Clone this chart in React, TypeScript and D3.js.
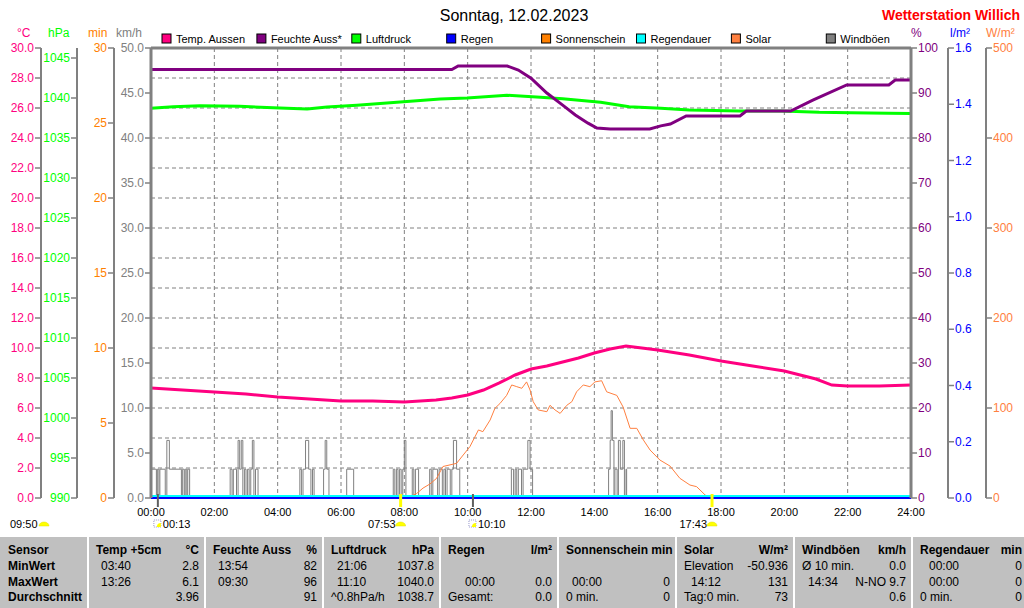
import React from 'react';
import * as d3 from 'd3';

// ---- data (hour of day, value) ----
const tempAussen: [number, number][] = [
  [0, 7.33], [1, 7.2], [2, 7.07], [3, 6.93], [4, 6.73], [5, 6.6], [6, 6.47], [7, 6.47],
  [8, 6.4], [9, 6.53], [9.5, 6.67], [10, 6.87], [10.5, 7.2], [11, 7.67], [11.5, 8.2],
  [12, 8.6], [12.5, 8.8], [13, 9.07], [13.5, 9.33], [14, 9.67], [14.5, 9.93], [15, 10.13],
  [15.5, 10.0], [16, 9.87], [17, 9.53], [18, 9.13], [19, 8.8], [20, 8.47], [21, 7.93],
  [21.5, 7.53], [22, 7.47], [23, 7.47], [24, 7.53],
];

const feuchteAussen: [number, number][] = [
  [0, 95.2], [9.5, 95.2], [9.7, 96], [11.25, 96], [11.6, 95.1], [12.0, 93.3], [12.5, 90],
  [13.0, 87.3], [13.4, 85.1], [13.8, 83.3], [14.08, 82.2], [14.5, 82], [15.75, 82],
  [16.1, 82.7], [16.4, 83.1], [16.9, 84.9], [18.6, 84.9], [18.8, 86], [20.2, 86],
  [20.9, 88.4], [21.97, 91.8], [23.3, 91.8], [23.5, 92.9], [24, 92.9],
];

const luftdruck: [number, number][] = [
  [0, 1038.71], [0.7, 1038.91], [1.55, 1039.04], [2.8, 1038.96], [4.07, 1038.75],
  [4.93, 1038.63], [5.56, 1038.88], [6.5, 1039.09], [8.08, 1039.56], [9.13, 1039.88],
  [9.98, 1040.0], [11.24, 1040.34], [12.3, 1040.1], [13.0, 1039.9], [14.2, 1039.46],
  [15.1, 1038.91], [16.1, 1038.71], [17.0, 1038.5], [18.6, 1038.38], [19.9, 1038.38],
  [21.1, 1038.21], [22.1, 1038.16], [23.3, 1038.09], [24, 1038.06],
];

const solar: [number, number][] = [
  [0, 0], [8.1, 0], [8.18, 1.5], [8.39, 5], [8.59, 11], [8.81, 15.6], [9.02, 21.9], [9.22, 35],
  [9.65, 38.5], [9.86, 47.8], [10.07, 57], [10.34, 75.6], [10.48, 73.7], [10.71, 86.7],
  [10.86, 99.6], [11.02, 105], [11.23, 114], [11.39, 125.6], [11.55, 123.7], [11.71, 121.9],
  [11.86, 129], [11.97, 120], [12.07, 107], [12.23, 97.8], [12.5, 95.9], [12.6, 103],
  [12.76, 97.8], [12.92, 94], [13.13, 103], [13.29, 107], [13.44, 118], [13.65, 125.6],
  [13.86, 123.7], [14.02, 129], [14.23, 130.3], [14.39, 118], [14.71, 114], [14.91, 101],
  [15.13, 77.4], [15.34, 77.4], [15.55, 64.4], [15.76, 53.3], [16.07, 42.2], [16.39, 35.5],
  [16.7, 21.9], [17.02, 14.4], [17.23, 12.6], [17.5, 3.3], [17.6, 1.5], [17.7, 0], [24, 0],
];

// gusts, step function
const windboeen: [number, number][] = [
  [0, 3.2], [0.17, 0], [0.2, 3.2], [0.25, 0], [0.28, 3.2], [0.45, 0], [0.5, 6.4], [0.58, 3.2],
  [0.96, 0], [1.0, 3.2], [1.05, 0], [1.08, 3.2], [1.13, 0], [1.16, 3.2], [1.22, 0],
  [2.5, 3.2], [2.56, 0], [2.6, 3.2], [2.7, 0], [2.75, 6.4], [2.8, 3.2], [2.85, 6.4], [2.9, 0],
  [2.95, 3.2], [3.0, 0], [3.05, 3.2], [3.1, 0], [3.15, 3.2], [3.2, 6.4], [3.25, 0], [3.3, 3.2], [3.38, 0],
  [4.7, 3.2], [4.75, 0], [4.8, 3.2], [4.88, 6.4], [4.98, 3.2], [5.05, 0], [5.1, 3.2], [5.15, 0],
  [5.45, 3.2], [5.5, 6.4], [5.55, 3.2], [5.62, 0],
  [6.18, 3.2], [6.4, 0],
  [7.65, 3.2], [7.7, 0], [7.75, 3.2], [7.8, 0], [7.85, 3.2], [7.9, 0], [7.95, 3.2], [8.0, 6.4], [8.05, 0],
  [8.25, 3.2], [8.3, 0], [8.35, 3.2], [8.45, 0], [8.8, 3.2], [8.85, 0], [8.9, 3.2], [9.05, 0],
  [9.1, 3.2], [9.2, 0], [9.25, 3.2], [9.3, 0], [9.35, 3.2], [9.45, 0], [9.5, 3.2], [9.55, 6.4],
  [9.65, 3.2], [9.75, 0],
  [11.38, 3.2], [11.45, 0], [11.5, 3.2], [11.55, 0], [11.6, 3.2], [11.7, 0], [11.75, 3.2],
  [11.9, 6.4], [11.97, 3.2], [12.05, 0],
  [14.45, 3.2], [14.5, 6.4], [14.53, 9.7], [14.57, 6.4], [14.62, 0], [14.65, 3.2], [14.72, 0],
  [14.76, 6.4], [14.82, 3.2], [14.9, 6.4], [14.95, 0], [15.0, 3.2], [15.02, 0], [24, 0],
];

const regen: [number, number][] = [[0, 0], [24, 0]];
const regendauer: [number, number][] = [[0, 0], [24, 0]];
const sonnenschein: [number, number][] = [[0, 0], [24, 0]];

const hourTicks = d3.range(0, 25, 2);
const tempTicks = d3.range(0, 30.01, 2);
const hpaTicks = d3.range(990, 1046, 5);
const minTicks = d3.range(0, 31, 5);
const kmhTicks = d3.range(0, 50.01, 5);
const pctTicks = d3.range(0, 101, 10);
const rainTicks = d3.range(0, 1.61, 0.2);
const solarTicks = d3.range(0, 501, 100);

const legendItems = [
  ['Temp. Aussen', '#ff0080'], ['Feuchte Auss*', '#800080'], ['Luftdruck', '#00ff00'],
  ['Regen', '#0000ff'], ['Sonnenschein', '#ff8000'], ['Regendauer', '#00ffff'],
  ['Solar', '#ff8040'], ['Windböen', '#808080'],
];

const astroEvents = [
  { time: '00:13', kind: 'moon' },
  { time: '07:53', kind: 'sun' },
  { time: '10:10', kind: 'moon' },
  { time: '17:43', kind: 'sun' },
];
const dayLength = '09:50';

const sensorRows = ['MinWert', 'MaxWert', 'Durchschnitt'];
const tableCols: { head: string; unit: string; indent: number; rows: [string, string][] }[] = [
  { head: 'Temp +5cm', unit: '°C', indent: 5, rows: [['03:40', '2.8'], ['13:26', '6.1'], ['', '3.96']] },
  { head: 'Feuchte Auss', unit: '%', indent: 5, rows: [['13:54', '82'], ['09:30', '96'], ['', '91']] },
  { head: 'Luftdruck', unit: 'hPa', indent: 6, rows: [['21:06', '1037.8'], ['11:10', '1040.0'], ['^0.8hPa/h', '1038.7']] },
  { head: 'Regen', unit: 'l/m²', indent: 17, rows: [['', ''], ['00:00', '0.0'], ['Gesamt:', '0.0']] },
  { head: 'Sonnenschein min', unit: '', indent: 6, rows: [['', ''], ['00:00', '0'], ['0 min.', '0']] },
  { head: 'Solar', unit: 'W/m²', indent: 7, rows: [['Elevation', '-50.936'], ['14:12', '131'], ['Tag:0 min.', '73']] },
  { head: 'Windböen', unit: 'km/h', indent: 6, rows: [['Ø 10 min.', '0.0'], ['14:34', 'N-NO 9.7'], ['', '0.6']] },
  { head: 'Regendauer', unit: 'min', indent: 9, rows: [['00:00', '0'], ['00:00', '0'], ['0 min.', '0']] },
];
const colEdges = [0, 88, 205, 323, 440, 558, 676, 794, 912, 1024];

const FONT = '"Liberation Sans", Arial, sans-serif';
const GRAY = '#808080';
const W = 1024;
const H = 608;
const top = 48;
const bottom = 498;

const x = d3.scaleLinear().domain([0, 24]).range([151, 911]);
const yTemp = d3.scaleLinear().domain([0, 30]).range([bottom, top]);
const yHpa = d3.scaleLinear().domain([990, 1046.25]).range([bottom, top]);
const yMin = d3.scaleLinear().domain([0, 30]).range([bottom, top]);
const yKmh = d3.scaleLinear().domain([0, 50]).range([bottom, top]);
const yPct = d3.scaleLinear().domain([0, 100]).range([bottom, top]);
const yRain = d3.scaleLinear().domain([0, 1.6]).range([bottom, top]);
const ySolar = d3.scaleLinear().domain([0, 500]).range([bottom, top]);

const parseHM = (s: string) => {
  const [h, m] = s.split(':').map(Number);
  return h + m / 60;
};

const mkLine = (y: d3.ScaleLinear<number, number>, curve: d3.CurveFactory = d3.curveLinear) =>
  d3.line<[number, number]>().x((d) => x(d[0])).y((d) => y(d[1])).curve(curve);

type AxisProps = {
  ax: number;
  scale: d3.ScaleLinear<number, number>;
  ticks: number[];
  fmt: (v: number) => string;
  color: string;
  side: 'left' | 'right';
  header: string;
  headerX: number;
  lineWidth?: number;
};

const Axis = ({ ax, scale, ticks, fmt, color, side, header, headerX, lineWidth = 2 }: AxisProps) => {
  const dir = side === 'left' ? -1 : 1;
  return (
    <g>
      <line x1={ax} x2={ax} y1={top} y2={bottom} stroke={GRAY} strokeWidth={lineWidth} />
      {ticks.map((t) => (
        <g key={t}>
          <line x1={ax} x2={ax + dir * 6} y1={scale(t)} y2={scale(t)} stroke={GRAY} strokeWidth={1.5} />
          <text
            x={ax + dir * 7}
            y={scale(t)}
            dy="0.35em"
            textAnchor={side === 'left' ? 'end' : 'start'}
            fill={color}
            fontSize={12}
          >
            {fmt(t)}
          </text>
        </g>
      ))}
      <text x={headerX} y={37} fill={color} fontSize={12}>{header}</text>
    </g>
  );
};

const SunIcon = ({ cx, cy }: { cx: number; cy: number }) => (
  <path d={`M${cx - 5},${cy} A5,4 0 0 1 ${cx + 5},${cy} Z`} fill="#ffff00" stroke="#e0e000" strokeWidth={0.5} />
);

const MoonIcon = ({ cx, cy }: { cx: number; cy: number }) => (
  <g>
    <rect x={cx - 4} y={cy - 6} width={7} height={7} fill="none" stroke="#8080c0" strokeWidth={0.8} strokeDasharray="1,1" />
    <path d={`M${cx - 1},${cy + 1} A4,4 0 0 1 ${cx + 3},${cy - 3} L${cx + 3},${cy + 1} Z`} fill="#ffff00" />
  </g>
);

export default function App() {
  const hGrid = tempTicks.filter((t) => t > 0 && t < 30);
  const vGrid = hourTicks.filter((h) => h > 0 && h < 24);
  const rowY = [570, 586, 601];

  return (
    <div style={{ position: 'absolute', left: 0, top: 0, width: W, height: H, background: '#fff' }}>
      <svg width={W} height={H} style={{ display: 'block', fontFamily: FONT }}>
        <rect width={W} height={H} fill="#ffffff" />

        {/* titles */}
        <text x={514} y={21} textAnchor="middle" fontSize={16} fill="#000">Sonntag, 12.02.2023</text>
        <text x={1020} y={20} textAnchor="end" fontSize={14} fontWeight="bold" fill="#ff0000">Wetterstation Willich</text>

        {/* legend */}
        {legendItems.map(([label, color], i) => (
          <g key={label} transform={`translate(${162 + i * 94.9},34)`}>
            <rect x={0} y={0} width={9} height={9} fill={color} stroke="#000" strokeWidth={1} />
            <text x={14} y={8.5} fontSize={11} fill="#000">{label}</text>
          </g>
        ))}

        {/* grid */}
        {hGrid.map((t) => (
          <line key={'h' + t} x1={x(0)} x2={x(24)} y1={yTemp(t)} y2={yTemp(t)} stroke={GRAY} strokeDasharray="4,3" />
        ))}
        {vGrid.map((h) => (
          <line key={'v' + h} x1={x(h)} x2={x(h)} y1={top} y2={bottom} stroke={GRAY} strokeDasharray="4,3" />
        ))}

        {/* series */}
        <path d={mkLine(yKmh, d3.curveStepAfter)(windboeen) ?? ''} fill="none" stroke={GRAY} strokeWidth={1} />
        <path d={mkLine(ySolar)(solar) ?? ''} fill="none" stroke="#ff8040" strokeWidth={1} />
        <path d={mkLine(yMin)(sonnenschein) ?? ''} fill="none" stroke="#ff8000" strokeWidth={2} />
        <path d={mkLine(yRain)(regen) ?? ''} fill="none" stroke="#0000ff" strokeWidth={2} />
        <path d={mkLine(yMin)(regendauer) ?? ''} fill="none" stroke="#00ffff" strokeWidth={2} transform="translate(0,-2)" />
        <path d={mkLine(yHpa)(luftdruck) ?? ''} fill="none" stroke="#00ff00" strokeWidth={3} />
        <path d={mkLine(yPct)(feuchteAussen) ?? ''} fill="none" stroke="#800080" strokeWidth={3} />
        <path d={mkLine(yTemp)(tempAussen) ?? ''} fill="none" stroke="#ff0080" strokeWidth={3} />

        {/* frame */}
        <line x1={x(0)} x2={x(24)} y1={top} y2={top} stroke={GRAY} strokeWidth={3} />

        {/* axes */}
        <Axis ax={41} scale={yTemp} ticks={tempTicks} fmt={(v) => v.toFixed(1)} color="#ff0080" side="left" header="°C" headerX={17} />
        <Axis ax={77} scale={yHpa} ticks={hpaTicks} fmt={(v) => String(v)} color="#00ff00" side="left" header="hPa" headerX={48} />
        <Axis ax={114} scale={yMin} ticks={minTicks} fmt={(v) => String(v)} color="#ff8000" side="left" header="min" headerX={88} />
        <Axis ax={151} scale={yKmh} ticks={kmhTicks} fmt={(v) => v.toFixed(1)} color={GRAY} side="left" header="km/h" headerX={116} lineWidth={3} />
        <Axis ax={911} scale={yPct} ticks={pctTicks} fmt={(v) => String(v)} color="#800080" side="right" header="%" headerX={911} lineWidth={3} />
        <Axis ax={948} scale={yRain} ticks={rainTicks} fmt={(v) => v.toFixed(1)} color="#0000ff" side="right" header="l/m²" headerX={950} />
        <Axis ax={986} scale={ySolar} ticks={solarTicks} fmt={(v) => String(v)} color="#ff8040" side="right" header="W/m²" headerX={986} />

        {/* x labels */}
        {hourTicks.map((h) => (
          <text key={'x' + h} x={x(h)} y={516} textAnchor="middle" fontSize={11} fill="#000">
            {String(h).padStart(2, '0') + ':00'}
          </text>
        ))}

        {/* sun / moon events */}
        <text x={10} y={528} fontSize={11} fill="#000">{dayLength}</text>
        <SunIcon cx={44} cy={526} />
        {astroEvents.map((ev) => {
          const ex = x(parseHM(ev.time));
          return ev.kind === 'sun' ? (
            <g key={ev.time}>
              <line x1={ex} x2={ex} y1={bottom - 4} y2={bottom + 9} stroke="#ffff00" strokeWidth={3} />
              <text x={ex - 5} y={528} textAnchor="end" fontSize={11} fill="#000">{ev.time}</text>
              <SunIcon cx={ex} cy={526} />
            </g>
          ) : (
            <g key={ev.time}>
              <line x1={ex} x2={ex} y1={bottom - 4} y2={bottom + 9} stroke="#606060" strokeWidth={2} />
              <MoonIcon cx={ex} cy={526} />
              <text x={ex + 5} y={528} fontSize={11} fill="#000">{ev.time}</text>
            </g>
          );
        })}

        {/* table */}
        <rect x={0} y={537} width={W} height={H - 537} fill="#c0c0c0" />
        {colEdges.slice(1, -1).map((e) => (
          <line key={'c' + e} x1={e} x2={e} y1={537} y2={H} stroke="#ffffff" strokeWidth={2} />
        ))}
        <text x={8} y={554} fontSize={12} fontWeight="bold" fill="#000">Sensor</text>
        {sensorRows.map((r, i) => (
          <text key={r} x={8} y={rowY[i]} fontSize={12} fontWeight="bold" fill="#000">{r}</text>
        ))}
        {tableCols.map((c, ci) => {
          const l = colEdges[ci + 1] + 8;
          const r = colEdges[ci + 2] - (ci === tableCols.length - 1 ? 2 : 6);
          return (
            <g key={c.head}>
              <text x={l} y={554} fontSize={12} fontWeight="bold" fill="#000">{c.head}</text>
              <text x={r} y={554} fontSize={12} fontWeight="bold" fill="#000" textAnchor="end">{c.unit}</text>
              {c.rows.map(([a, b], ri) => (
                <g key={ri}>
                  <text x={/^\d\d:\d\d$/.test(a) ? l + c.indent : l} y={rowY[ri]} fontSize={12} fill="#000">{a}</text>
                  <text x={r} y={rowY[ri]} fontSize={12} fill="#000" textAnchor="end">{b}</text>
                </g>
              ))}
            </g>
          );
        })}
      </svg>
    </div>
  );
}
